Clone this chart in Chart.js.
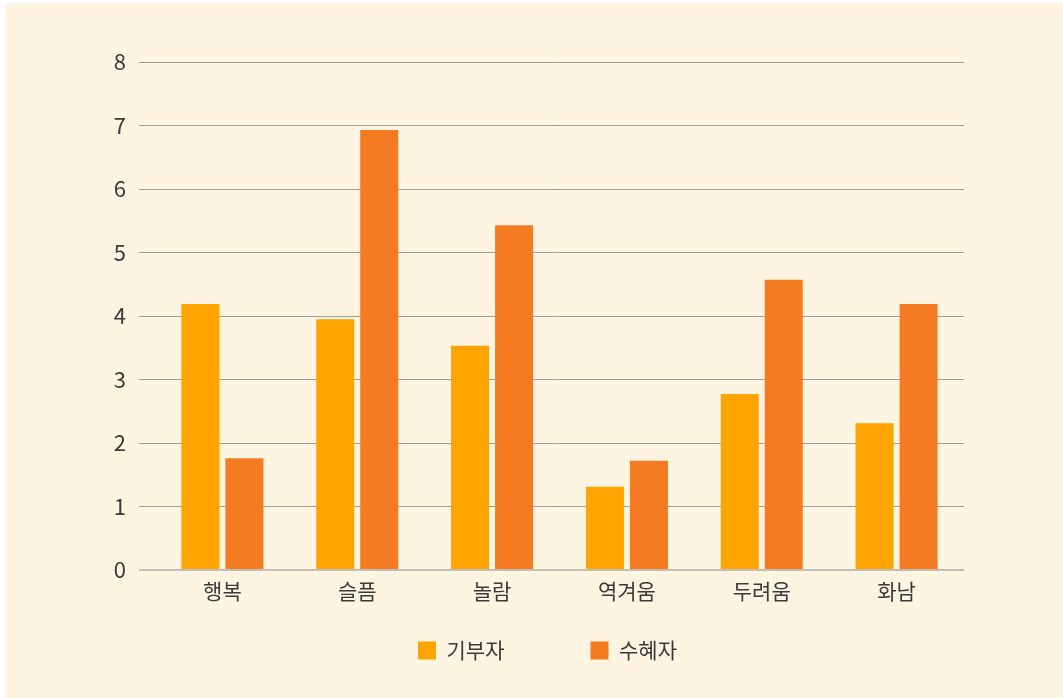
<!DOCTYPE html>
<html lang="ko">
<head>
<meta charset="utf-8">
<title>기부자 / 수혜자 감정</title>
<script src="https://cdn.jsdelivr.net/npm/chart.js@4.4.1/dist/chart.umd.min.js"></script>
<style>
  html, body { margin: 0; padding: 0; background: #fff; }
  .chart-box { position: absolute; left: 5px; top: 3px; width: 1058px; height: 695px; background: #fdf5e1; }
</style>
</head>
<body>
<div class="chart-box"><canvas id="emotion-chart"></canvas></div>
<script>
// values
const emotions = ['행복', '슬픔', '놀람', '역겨움', '두려움', '화남']
const donorValues = [4.19, 3.95, 3.53, 1.31, 2.77, 2.31]
const recipientValues = [1.76, 6.93, 5.43, 1.72, 4.57, 4.19]
const seriesNames = ['기부자', '수혜자']
const yTicks = [0, 1, 2, 3, 4, 5, 6, 7, 8]

const donorColor = '#ffa400'
const recipientColor = '#f47b22'
const fontFamily = "'Noto Sans CJK KR', 'Noto Sans', sans-serif"
const textColor = '#3a3a3a'

// legend sits closer to the axis than chart.js would put it
const legendNudge = {
    id: 'legendNudge',
    afterLayout(chart) {
        const lg = chart.legend
        lg.top -= 56
        lg.bottom -= 56
        lg.left -= 12
        lg.right -= 12
    }
}

const ctx = document.getElementById('emotion-chart').getContext('2d')

const emotionChart = new Chart(ctx, {
    type: 'bar',
    data: {
        labels: emotions,
        datasets: [
            {
                label: seriesNames[0],
                data: donorValues,
                backgroundColor: donorColor,
                borderWidth: 0
            },
            {
                label: seriesNames[1],
                data: recipientValues,
                backgroundColor: recipientColor,
                borderWidth: 0
            }
        ]
    },
    options: {
        responsive: true,
        maintainAspectRatio: false,
        animation: false,
        categoryPercentage: 0.653,
        barPercentage: 0.864,
        layout: {
            padding: { left: 0, right: 99, top: 59, bottom: -29 }
        },
        plugins: {
            legend: {
                position: 'bottom',
                fullSize: false,
                labels: {
                    boxWidth: 18,
                    boxHeight: 18,
                    padding: 86,
                    color: textColor,
                    font: { family: fontFamily, size: 21 }
                }
            },
            tooltip: { enabled: true }
        },
        scales: {
            x: {
                grid: { display: false, drawTicks: false },
                border: { display: false },
                ticks: {
                    padding: 8,
                    color: textColor,
                    font: { family: fontFamily, size: 21 }
                },
                afterFit(scale) {
                    scale.height = 40
                }
            },
            y: {
                min: 0,
                max: 8,
                border: { display: false },
                grid: {
                    drawTicks: true,
                    tickLength: 16,
                    color: (c) => c.tick && c.tick.value === 0 ? '#c2bfb7' : '#9d9d9d',
                    tickColor: (c) => c.tick && c.tick.value === 0 ? '#c2bfb7' : '#9d9d9d',
                    lineWidth: (c) => c.tick && c.tick.value === 0 ? 2 : 1,
                    tickWidth: (c) => c.tick && c.tick.value === 0 ? 2 : 1
                },
                ticks: {
                    padding: 13,
                    color: textColor,
                    font: { family: fontFamily, size: 22 }
                },
                afterBuildTicks(axis) {
                    axis.ticks = yTicks.map(v => ({ value: v }))
                },
                afterFit(scale) {
                    scale.width = 150
                }
            }
        }
    },
    plugins: [legendNudge]
})
</script>
</body>
</html>
